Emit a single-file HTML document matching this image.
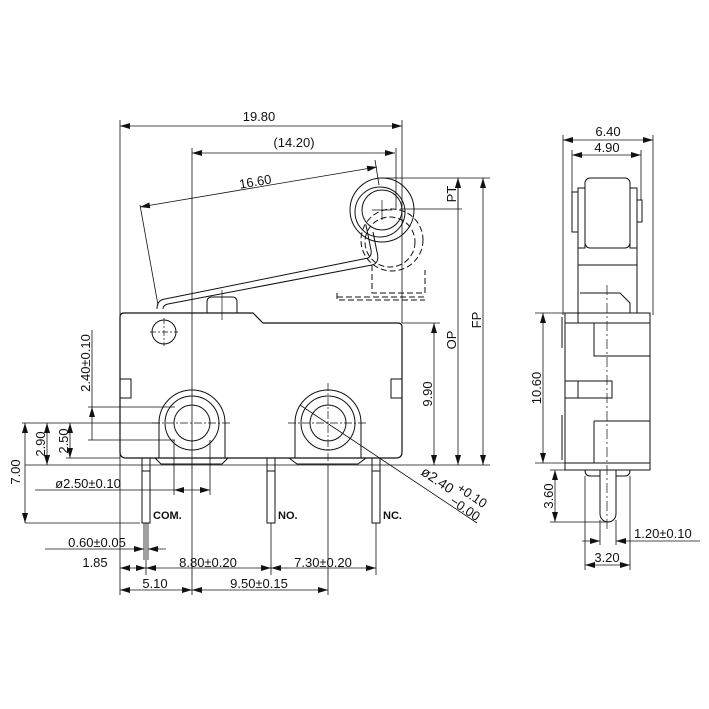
<!DOCTYPE html>
<html><head><style>body{margin:0;background:#fff}svg{display:block}text{font-family:"Liberation Sans",sans-serif;font-size:13px;fill:#111}</style></head>
<body>
<svg width="709" height="709" viewBox="0 0 709 709" xmlns="http://www.w3.org/2000/svg">
<defs>
<marker id="a" viewBox="0 0 10 6" refX="10" refY="3" markerWidth="10" markerHeight="6" orient="auto-start-reverse" markerUnits="userSpaceOnUse"><path d="M0,0L10,3L0,6z" fill="#111"/></marker>
</defs>
<g fill="none" stroke="#111" stroke-width="1">
<path d="M124,313 H253 L263,323 H398 Q402,323 402,327 V452 Q402,458 396,458 H126 Q120,458 120,452 V317 Q120,313 124,313Z" stroke-width="1.2"/>
<rect x="120" y="379" width="11" height="19"/><rect x="391" y="379" width="11" height="19"/>
<circle cx="164" cy="332" r="12"/>
<path d="M150,332H178M164,318V346" stroke-dasharray="6 2 2 2" stroke-width="0.7"/>
<path d="M207,313 V302 Q207,297 212,297 H232 Q237,297 237,302 V313"/>
<path d="M222,290V320" stroke-width="0.7"/>
<path d="M159,458 V423 A33,33 0 0 1 225,423 V458"/>
<path d="M155,458 L161,464 H222 L228,458"/>
<circle cx="192" cy="423" r="27"/><circle cx="192" cy="423" r="18"/>
<path d="M295,458 V423 A33,33 0 0 1 361,423 V458"/>
<path d="M289,458 L297,464 H358 L366,458"/>
<circle cx="328" cy="423" r="27"/><circle cx="328" cy="423" r="18"/>
<path d="M152,423H232M328,383V463M288,423H368" stroke-dasharray="8 2 2 2" stroke-width="0.7"/>
<rect x="142" y="458" width="8" height="65"/><path d="M142,471H150"/>
<rect x="267" y="458" width="8" height="65"/><path d="M267,471H275"/>
<rect x="372" y="458" width="8" height="65"/><path d="M372,471H380"/>
<path d="M157,309 Q157,300 165,299 L368,258 Q372,256 371,250 L366,225"/>
<path d="M163,309 Q163,305 168,304 L372,265 Q380,263 377,252 L373,232"/>
<circle cx="382" cy="210" r="32"/><circle cx="380" cy="212" r="25"/><circle cx="382" cy="210" r="20"/>
<path d="M372,210H392M382,200V220" stroke-width="0.7"/>
<g stroke-dasharray="6 3">
<circle cx="390" cy="242" r="25"/><circle cx="392" cy="240" r="31"/>
<path d="M372,265V293H425V270M337,293V300H425"/>
<path d="M337,297H425"/>
</g>
<g stroke-width="0.8">
<path d="M120,120V595M402,120V323M396,148V210M192,148V595"/>
<path d="M120,126H402" marker-start="url(#a)" marker-end="url(#a)"/>
<path d="M192,153H395" marker-start="url(#a)" marker-end="url(#a)"/>
<path d="M140,207L377,167" marker-start="url(#a)" marker-end="url(#a)"/>
<path d="M140,205L158,305M375,160L379,185"/>
<path d="M383,178H490M400,209H462M402,323H440M25,465H490"/>
<path d="M458,178V209" marker-start="url(#a)"/><path d="M458,209V465" marker-end="url(#a)"/>
<path d="M458,209V178" marker-end="url(#a)"/>
<path d="M483,178V465" marker-start="url(#a)" marker-end="url(#a)"/>
<path d="M434,323V465" marker-start="url(#a)" marker-end="url(#a)"/>
<path d="M88,407H175M88,440H175M22,423H160M66,458H120"/>
<path d="M92,330V407" /><path d="M92,440V407" marker-end="url(#a)"/>
<path d="M47,423V465" marker-start="url(#a)" marker-end="url(#a)"/>
<path d="M70,423V458" marker-start="url(#a)" marker-end="url(#a)"/>
<path d="M25,423V523" marker-start="url(#a)" marker-end="url(#a)"/>
<path d="M25,523H140"/>
<path d="M174,440V495M210,440V495"/>
<path d="M35,490H174"/><path d="M174,490H210" marker-start="url(#a)" marker-end="url(#a)"/>
<path d="M144,523V560M148,523V560M146,523V575M271,523V575M376,523V575M328,465V595"/>
<path d="M45,549H144" marker-end="url(#a)"/><path d="M166,549H148" marker-end="url(#a)"/>
<path d="M120,568H146" marker-start="url(#a)" marker-end="url(#a)"/>
<path d="M146,568H271" marker-start="url(#a)" marker-end="url(#a)"/>
<path d="M271,568H376" marker-start="url(#a)" marker-end="url(#a)"/>
<path d="M120,590H192" marker-start="url(#a)" marker-end="url(#a)"/>
<path d="M192,590H328" marker-start="url(#a)" marker-end="url(#a)"/>
<path d="M300,405L477,523"/>
</g>
<g>
<path d="M563,135V315M653,135V315M572,150V200M641,150V200" stroke-width="0.8"/>
<path d="M563,140H653" stroke-width="0.8" marker-start="url(#a)" marker-end="url(#a)"/>
<path d="M572,155H641" stroke-width="0.8" marker-start="url(#a)" marker-end="url(#a)"/>
<rect x="585" y="178" width="45" height="70" rx="5"/>
<rect x="578" y="188" width="7" height="60"/><rect x="630" y="188" width="7" height="60"/>
<rect x="572" y="192" width="6" height="40"/><rect x="637" y="200" width="5" height="22"/>
<path d="M578,248V313M637,248V313M578,265H637M580,293H620L630,303V313"/>
<rect x="565" y="313" width="85" height="150"/>
<path d="M565,323H650M578,313V323M594,323V356H650M594,421H650V463M594,421V463"/>
<rect x="565" y="381" width="47" height="17"/><path d="M578,381V398"/>
<path d="M562,317V348M562,415V460M650,317V348M650,415V460"/>
<path d="M565,463V470H650V463M585,470Q585,476 590,476H600M630,470Q630,476 625,476H616"/>
<path d="M600,470V514A8,8 0 0 0 616,514V470"/>
<path d="M607,285V530" stroke-dasharray="10 3 2 3" stroke-width="0.7"/>
<g stroke-width="0.8">
<path d="M535,313H565M535,463H565M550,470H600M550,522H608"/>
<path d="M543,313V463" marker-start="url(#a)" marker-end="url(#a)"/>
<path d="M555,470V522" marker-start="url(#a)" marker-end="url(#a)"/>
<path d="M585,476V570M630,476V570M600,520V545M616,520V545"/>
<path d="M582,541H600" marker-end="url(#a)"/><path d="M700,541H616" marker-end="url(#a)"/>
<path d="M585,565H630" marker-start="url(#a)" marker-end="url(#a)"/>
</g>
</g>
</g>
<text x="259" y="121" text-anchor="middle">19.80</text>
<text x="294" y="147" text-anchor="middle">(14.20)</text>
<text x="256" y="186" text-anchor="middle" transform="rotate(-9.6 256 186)">16.60</text>
<text transform="translate(456,194) rotate(-90)" text-anchor="middle">PT</text>
<text transform="translate(456,340) rotate(-90)" text-anchor="middle">OP</text>
<text transform="translate(481,320) rotate(-90)" text-anchor="middle">FP</text>
<text transform="translate(432,394) rotate(-90)" text-anchor="middle">9.90</text>
<text transform="translate(90,363) rotate(-90)" text-anchor="middle">2.40±0.10</text>
<text transform="translate(45,444) rotate(-90)" text-anchor="middle">2.90</text>
<text transform="translate(68,441) rotate(-90)" text-anchor="middle">2.50</text>
<text transform="translate(20,472) rotate(-90)" text-anchor="middle">7.00</text>
<text x="88" y="488" text-anchor="middle">ø2.50±0.10</text>
<text x="97" y="547" text-anchor="middle">0.60±0.05</text>
<text x="95" y="567" text-anchor="middle">1.85</text>
<text x="208" y="567" text-anchor="middle">8.80±0.20</text>
<text x="323" y="567" text-anchor="middle">7.30±0.20</text>
<text x="155" y="588" text-anchor="middle">5.10</text>
<text x="259" y="588" text-anchor="middle">9.50±0.15</text>
<text x="153" y="519" style="font-weight:bold;font-size:11px">COM.</text>
<text x="278" y="519" style="font-weight:bold;font-size:11px">NO.</text>
<text x="383" y="519" style="font-weight:bold;font-size:11px">NC.</text>
<text transform="translate(420,474) rotate(34)" style="font-size:14px">ø2.40</text>
<text transform="translate(456,490) rotate(34)" style="font-size:13px">+0.10</text>
<text transform="translate(449,503) rotate(34)" style="font-size:13px">−0.00</text>
<text x="608" y="136" text-anchor="middle">6.40</text>
<text x="607" y="152" text-anchor="middle">4.90</text>
<text transform="translate(541,388) rotate(-90)" text-anchor="middle">10.60</text>
<text transform="translate(553,496) rotate(-90)" text-anchor="middle">3.60</text>
<text x="634" y="538">1.20±0.10</text>
<text x="607" y="562" text-anchor="middle">3.20</text>
</svg>
</body></html>
